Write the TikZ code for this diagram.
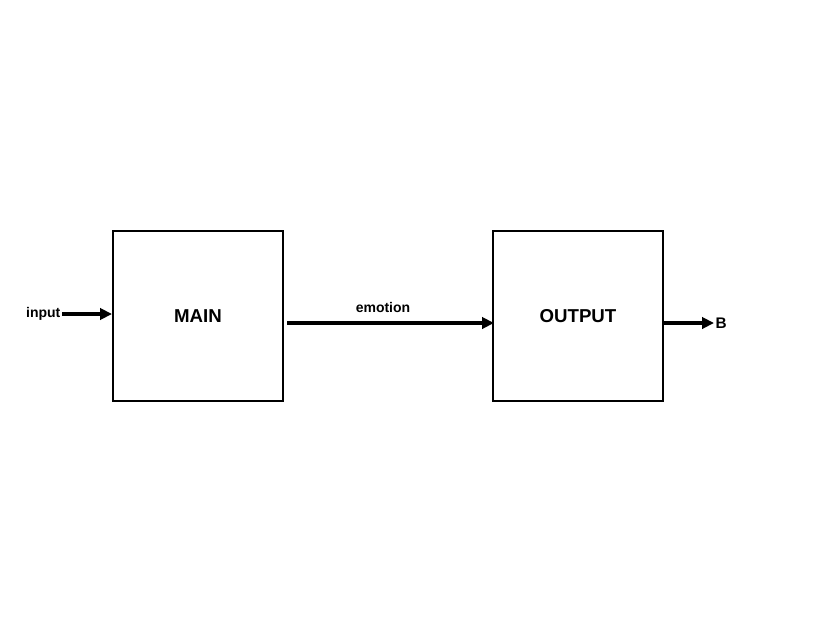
\documentclass[tikz,border=0pt]{standalone}
\usepackage{fontspec}
\setmainfont{Liberation Sans}
\usetikzlibrary{arrows.meta,positioning}
\begin{document}
\begin{tikzpicture}[x=0.75pt,y=-0.75pt,
    block/.style={draw,line width=1.5pt,minimum size=127.5pt,inner sep=0pt,font=\bfseries\fontsize{14}{16}\selectfont},
    arr/.style={line width=2.6pt,-{Triangle[length=9pt,width=8.5pt]}}]
    \useasboundingbox (0,0) rectangle (813,639);
    \node[block] (main) at (198,316) {MAIN};
    \node[block] (output) at (578,316) {OUTPUT};
    \node[font=\bfseries\fontsize{10.5}{12}\selectfont,anchor=east,inner sep=1pt] (input) at (62,314) {input};
    \node[font=\bfseries\fontsize{11.5}{13}\selectfont,anchor=west,inner sep=1pt] (b) at (714,323) {B};
    \node[font=\bfseries\fontsize{10.5}{12}\selectfont] (emo) at (383,307) {emotion};
    \draw[arr] (input.east) -- (main.west |- input.east);
    \draw[arr] ([shift={(3,7)}]main.east) -- ([shift={(2,7)}]output.west);
    \draw[arr] (output.east |- b.west) -- (b.west);
\end{tikzpicture}
\end{document}
